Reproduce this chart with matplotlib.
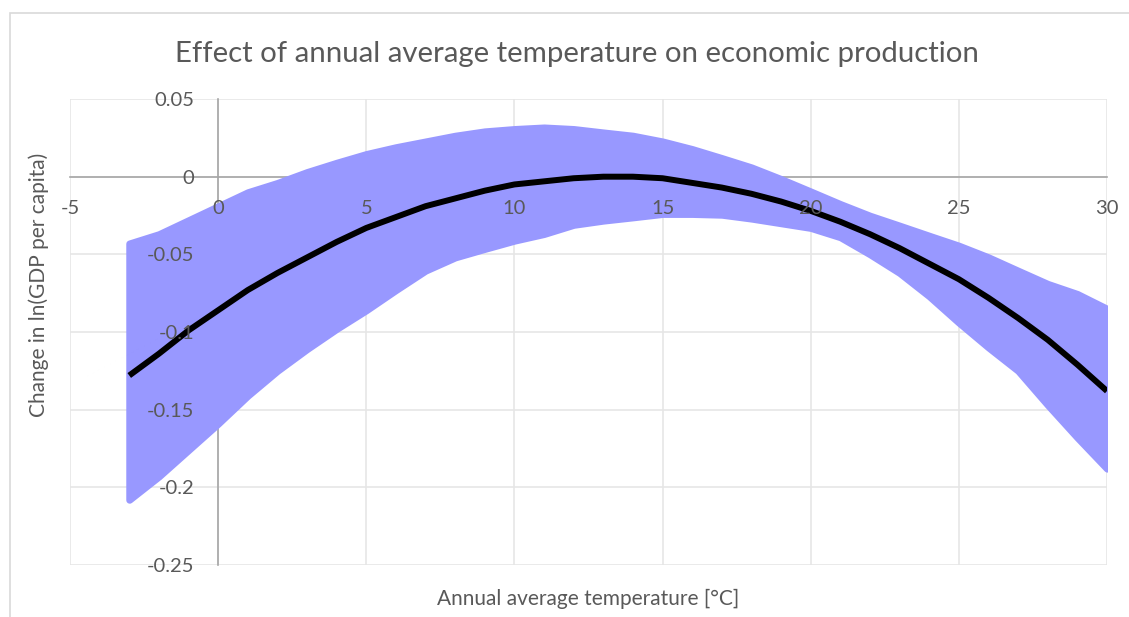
import matplotlib
matplotlib.use("Agg")
import matplotlib.pyplot as plt
from matplotlib.patches import Rectangle

plt.rcParams['font.family'] = ['Lato', 'DejaVu Sans']

# --- data -----------------------------------------------------------------
temp = list(range(-3, 31))  # annual average temperature, degC

# fitted response curve
response = [-0.128, -0.114, -0.099, -0.086, -0.073, -0.062, -0.052, -0.042,
            -0.033, -0.026, -0.019, -0.014, -0.009, -0.005, -0.003, -0.001,
            0.000, 0.000, -0.001, -0.004, -0.007, -0.011, -0.016, -0.022,
            -0.029, -0.037, -0.046, -0.056, -0.066, -0.078, -0.091, -0.105,
            -0.121, -0.138]

# envelope of the bootstrap replicates
band_hi = [-0.043, -0.037, -0.028, -0.019, -0.010, -0.004, 0.003, 0.009,
           0.0146, 0.019, 0.0227, 0.0264, 0.0292, 0.0307, 0.0317, 0.0307,
           0.0285, 0.0264, 0.0227, 0.0178, 0.012, 0.006, -0.0015, -0.0095,
           -0.0176, -0.0251, -0.0315, -0.038, -0.0444, -0.0519, -0.0605,
           -0.069, -0.0755, -0.085]
band_lo = [-0.208, -0.193, -0.176, -0.159, -0.141, -0.125, -0.111, -0.098,
           -0.086, -0.073, -0.0605, -0.052, -0.0465, -0.0412, -0.0369,
           -0.031, -0.0283, -0.0262, -0.024, -0.024, -0.0245, -0.027,
           -0.030, -0.033, -0.039, -0.050, -0.062, -0.077, -0.094, -0.110,
           -0.125, -0.147, -0.168, -0.188]

xticks = [-5, 0, 5, 10, 15, 20, 25, 30]
yticks = [-0.25, -0.2, -0.15, -0.1, -0.05, 0, 0.05]
ytick_labels = ["-0.25", "-0.2", "-0.15", "-0.1", "-0.05", "0", "0.05"]
# --------------------------------------------------------------------------

txt = '#595959'
band_col = '#9898FF'
rect = [0.062, 0.0843, 0.9185, 0.7552]

fig = plt.figure(figsize=(11.29, 6.17), dpi=100)
ax = fig.add_axes(rect)

ax.fill_between(temp, band_lo, band_hi, color=band_col, lw=5,
                edgecolor=band_col, joinstyle='round', zorder=2)
ax.plot(temp, response, color='black', lw=4.3, solid_capstyle='butt',
        solid_joinstyle='round', zorder=3)

# grid and axis lines sit under the band
ax.set_xlim(-5, 30)
ax.set_ylim(-0.25, 0.05)
ax.set_xticks(xticks)
ax.set_yticks(yticks)
ax.grid(True, color='#E6E6E6', lw=1.2)
ax.set_axisbelow(True)
ax.tick_params(length=0, labelbottom=False, labelleft=False)
for s in ['top', 'right']:
    ax.spines[s].set_visible(False)
ax.spines['left'].set_position(('data', 0))
ax.spines['bottom'].set_position(('data', 0))
for s in ['left', 'bottom']:
    ax.spines[s].set_color('#A6A6A6')
    ax.spines[s].set_linewidth(1.2)
    ax.spines[s].set_zorder(1)

# tick labels go on a transparent axes drawn on top
lab = fig.add_axes(rect, frameon=False, sharex=ax, sharey=ax)
lab.patch.set_visible(False)
lab.set_xticks(xticks)
lab.set_yticks(yticks)
lab.set_xticklabels([str(t) for t in xticks])
lab.set_yticklabels(ytick_labels)
lab.spines['left'].set_position(('data', 0))
lab.spines['bottom'].set_position(('data', 0))
lab.tick_params(length=0, labelsize=14.5, labelcolor=txt)
lab.tick_params(axis='x', pad=17)
lab.tick_params(axis='y', pad=17)

fig.text(0.034, 0.538, 'Change in ln(GDP per capita)', rotation=90,
         ha='center', va='center', fontsize=15, color=txt)
fig.text(0.521, 0.029, 'Annual average temperature [°C]', ha='center',
         va='center', fontsize=15, color=txt)
fig.text(0.511, 0.913, 'Effect of annual average temperature on economic production',
         ha='center', va='center', fontsize=21.2, color=txt)

fig.patches.append(Rectangle((10 / 1129, -0.1), 1.2, 1.1 - 13 / 617,
                             transform=fig.transFigure, fill=False,
                             edgecolor='#D9D9D9', lw=1.2))

fig.savefig('out.png', dpi=100)
